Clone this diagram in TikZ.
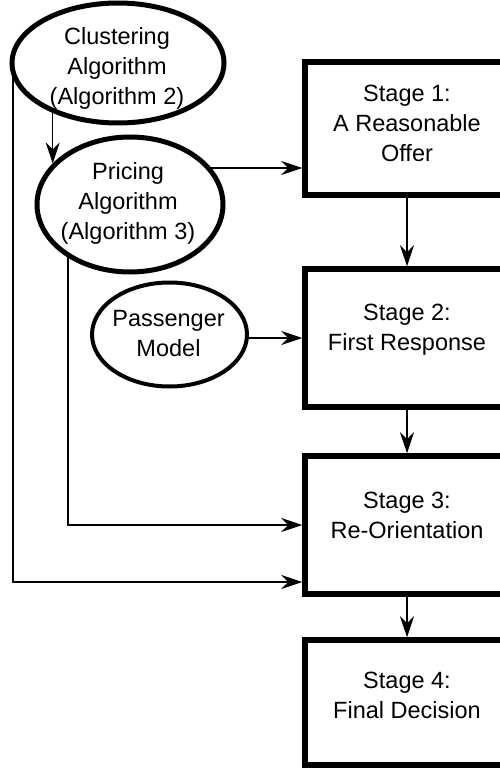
\documentclass[tikz,border=0pt]{standalone}
\usepackage{fontspec}
\setmainfont{Liberation Sans}
\usetikzlibrary{arrows.meta,shapes.geometric,backgrounds}
\begin{document}
\begin{tikzpicture}[x=1pt,y=1pt,
  ell/.style={draw, ellipse, line width=5pt, fill=white, inner sep=0pt},
  stagebox/.style={draw, rectangle, line width=5.5pt, fill=white, inner sep=0pt, minimum width=204pt},
  lbl/.style={align=center, inner sep=0pt, font=\fontsize{23.5}{30}\selectfont},
  conn/.style={line width=1.2pt, -{Stealth[length=21pt,width=14pt,inset=7pt]}},
  ]
\useasboundingbox (0,0) rectangle (499,-770);

% ellipses
\node[ell, minimum width=212pt, minimum height=120pt] (clust) at (118,-63) {};
\node[lbl] (clustT) at (117,-68) {Clustering\\Algorithm\\(Algorithm 2)};
\node[ell, minimum width=186pt, minimum height=135pt] (pric) at (130,-204.5) {};
\node[lbl] (pricT) at (128,-203) {Pricing\\Algorithm\\(Algorithm 3)};
\node[ell, line width=4pt, minimum width=155pt, minimum height=104pt] (pass) at (169.5,-334.5) {};
\node[lbl] (passT) at (168.5,-333.3) {Passenger\\Model};

% stage boxes
\node[stagebox, minimum height=133pt] (s1) at (407,-128.5) {};
\node[lbl] (s1T) at (407,-123) {Stage 1:\\A Reasonable\\Offer};
\node[stagebox, minimum height=138pt] (s2) at (407,-338) {};
\node[lbl] (s2T) at (407,-329.6) {Stage 2:\\First Response};
\node[stagebox, minimum height=138pt] (s3) at (407,-525) {};
\node[lbl] (s3T) at (407,-515) {Stage 3:\\Re-Orientation};
\node[stagebox, minimum height=125pt] (s4) at (407,-702.5) {};
\node[lbl] (s4T) at (407,-695) {Stage 4:\\Final Decision};

% connectors
\begin{pgfonlayer}{background}
\draw[conn] (pric.152.83 |- clust.center) -- (pric.152.83);
\draw[conn] ([yshift=36.5pt]pric.center) -- ([yshift=36.5pt]pric.center -| s1.west);
\draw[conn] ([xshift=-62pt]pric.center) |- (s3.west);
\draw[conn] ([xshift=-105pt]clust.center) |- ([yshift=-57pt]s3.west);
\draw[conn] (pass.center |- s2.west) -- (s2.west);
\draw[conn] (s1.south) -- (s2.north);
\draw[conn] (s2.south) -- (s3.north);
\draw[conn] (s3.south) -- (s4.north);
\end{pgfonlayer}
\end{tikzpicture}
\end{document}
